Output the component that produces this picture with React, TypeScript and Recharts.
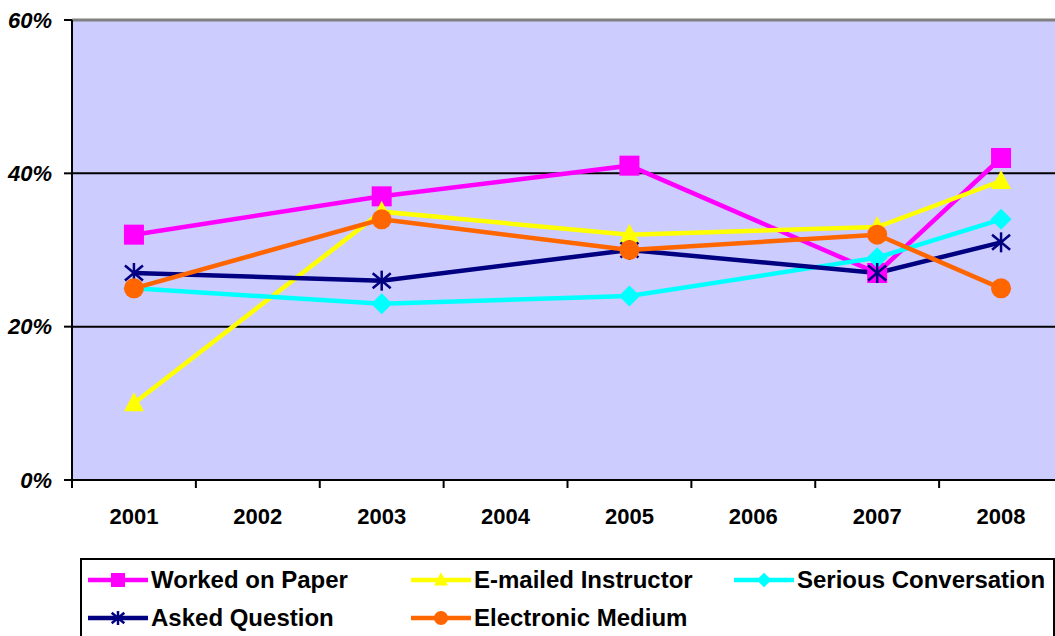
import { LineChart, Line, XAxis, YAxis, CartesianGrid, ReferenceLine } from 'recharts';

const years = [2001, 2002, 2003, 2004, 2005, 2006, 2007, 2008];
const dataYears = [2001, 2003, 2005, 2007, 2008];
const workedOnPaper = [32, 37, 41, 27, 42];
const emailedInstructor = [10, 35, 32, 33, 39];
const seriousConversation = [25, 23, 24, 29, 34];
const askedQuestion = [27, 26, 30, 27, 31];
const electronicMedium = [25, 34, 30, 32, 25];
const yTicks = [0, 20, 40, 60];

type Shape = 'square' | 'triangle' | 'diamond' | 'asterisk' | 'circle';

const SERIES: { key: string; name: string; color: string; shape: Shape; values: number[] }[] = [
  { key: 'paper', name: 'Worked on Paper', color: '#FF00FF', shape: 'square', values: workedOnPaper },
  { key: 'email', name: 'E-mailed Instructor', color: '#FFFF00', shape: 'triangle', values: emailedInstructor },
  { key: 'serious', name: 'Serious Conversation', color: '#00FFFF', shape: 'diamond', values: seriousConversation },
  { key: 'asked', name: 'Asked Question', color: '#000080', shape: 'asterisk', values: askedQuestion },
  { key: 'electronic', name: 'Electronic Medium', color: '#FF6600', shape: 'circle', values: electronicMedium },
];

const data = dataYears.map((year, i) => {
  const row: Record<string, number> = { year };
  SERIES.forEach((s) => { row[s.key] = s.values[i]; });
  return row;
});

// ticks at category centres (labels) and between them (tick marks), Excel style
const xTicks = [...years.flatMap((y) => [y - 0.5, y]), years[years.length - 1] + 0.5];

const FONT = '"Liberation Sans", Arial, sans-serif';

function Marker({ cx, cy, shape, color, r = 10 }: { cx: number; cy: number; shape: Shape; color: string; r?: number }) {
  switch (shape) {
    case 'square':
      return <rect x={cx - r} y={cy - r} width={2 * r} height={2 * r} fill={color} />;
    case 'triangle':
      return <polygon points={`${cx},${cy - r * 1.1} ${cx + r},${cy + r * 0.8} ${cx - r},${cy + r * 0.8}`} fill={color} />;
    case 'diamond':
      return <polygon points={`${cx},${cy - r * 1.05} ${cx + r * 1.05},${cy} ${cx},${cy + r * 1.05} ${cx - r * 1.05},${cy}`} fill={color} />;
    case 'asterisk':
      return (
        <g stroke={color} strokeWidth={2.5}>
          <line x1={cx} y1={cy - r} x2={cx} y2={cy + r} />
          <line x1={cx - r * 0.9} y1={cy - r * 0.75} x2={cx + r * 0.9} y2={cy + r * 0.75} />
          <line x1={cx - r * 0.9} y1={cy + r * 0.75} x2={cx + r * 0.9} y2={cy - r * 0.75} />
        </g>
      );
    default:
      return <circle cx={cx} cy={cy} r={r} fill={color} />;
  }
}

function XTick({ x, y, payload }: any) {
  const v = payload.value as number;
  if (Number.isInteger(v)) {
    return (
      <text x={x} y={y + 44} textAnchor="middle" fontFamily={FONT} fontSize={22} fontWeight="bold" fill="#000">
        {v}
      </text>
    );
  }
  return <line x1={x} y1={y} x2={x} y2={y + 8} stroke="#000" strokeWidth={2} />;
}

function LegendBox() {
  return (
    <div style={{
      position: 'absolute', left: 80, top: 558, width: 971, height: 100,
      border: '2px solid #000', background: '#fff', fontFamily: FONT,
    }}>
      {SERIES.map((s, i) => {
        const col = i % 3;
        const row = Math.floor(i / 3);
        return (
          <div key={s.key} style={{
            position: 'absolute', left: 4 + col * 323, top: 6 + row * 38,
            display: 'flex', alignItems: 'center', height: 28,
          }}>
            <svg width={64} height={28}>
              <line x1={2} y1={14} x2={62} y2={14} stroke={s.color} strokeWidth={4.5} />
              <Marker cx={32} cy={14} shape={s.shape} color={s.color} r={7} />
            </svg>
            <span style={{ fontSize: 24, fontWeight: 'bold', marginLeft: 1, color: '#000' }}>{s.name}</span>
          </div>
        );
      })}
    </div>
  );
}

export default function App() {
  return (
    <div style={{ position: 'absolute', left: 0, top: 0, width: 1055, height: 636, overflow: 'hidden', background: '#fff' }}>
      <LineChart width={1063} height={636} data={data} margin={{ top: 20, right: 0, left: 0, bottom: 116 }}>
        <CartesianGrid vertical={false} fill="#CCCCFF" stroke="#000" strokeWidth={2} />
        <ReferenceLine y={60} stroke="#808080" strokeWidth={3} />
        <XAxis
          type="number"
          dataKey="year"
          domain={[years[0] - 0.5, years[years.length - 1] + 0.5]}
          ticks={xTicks}
          interval={0}
          tickLine={false}
          tickSize={0}
          tickMargin={0}
          height={40}
          axisLine={{ stroke: '#000', strokeWidth: 2 }}
          tick={<XTick />}
        />
        <YAxis
          type="number"
          domain={[0, 60]}
          ticks={yTicks}
          width={72}
          tickSize={8}
          tickMargin={12}
          tickFormatter={(v) => `${v}%`}
          axisLine={{ stroke: '#000', strokeWidth: 2 }}
          tickLine={{ stroke: '#000', strokeWidth: 2 }}
          tick={{ fontFamily: FONT, fontSize: 22, fontWeight: 'bold', fontStyle: 'italic', fill: '#000' }}
        />
        {SERIES.map((s) => (
          <Line
            key={s.key}
            type="linear"
            dataKey={s.key}
            name={s.name}
            stroke={s.color}
            strokeWidth={4.5}
            isAnimationActive={false}
            dot={(p: any) => <Marker key={`${s.key}-${p.index}`} cx={p.cx} cy={p.cy} shape={s.shape} color={s.color} />}
            activeDot={false}
          />
        ))}
      </LineChart>
      <LegendBox />
    </div>
  );
}
